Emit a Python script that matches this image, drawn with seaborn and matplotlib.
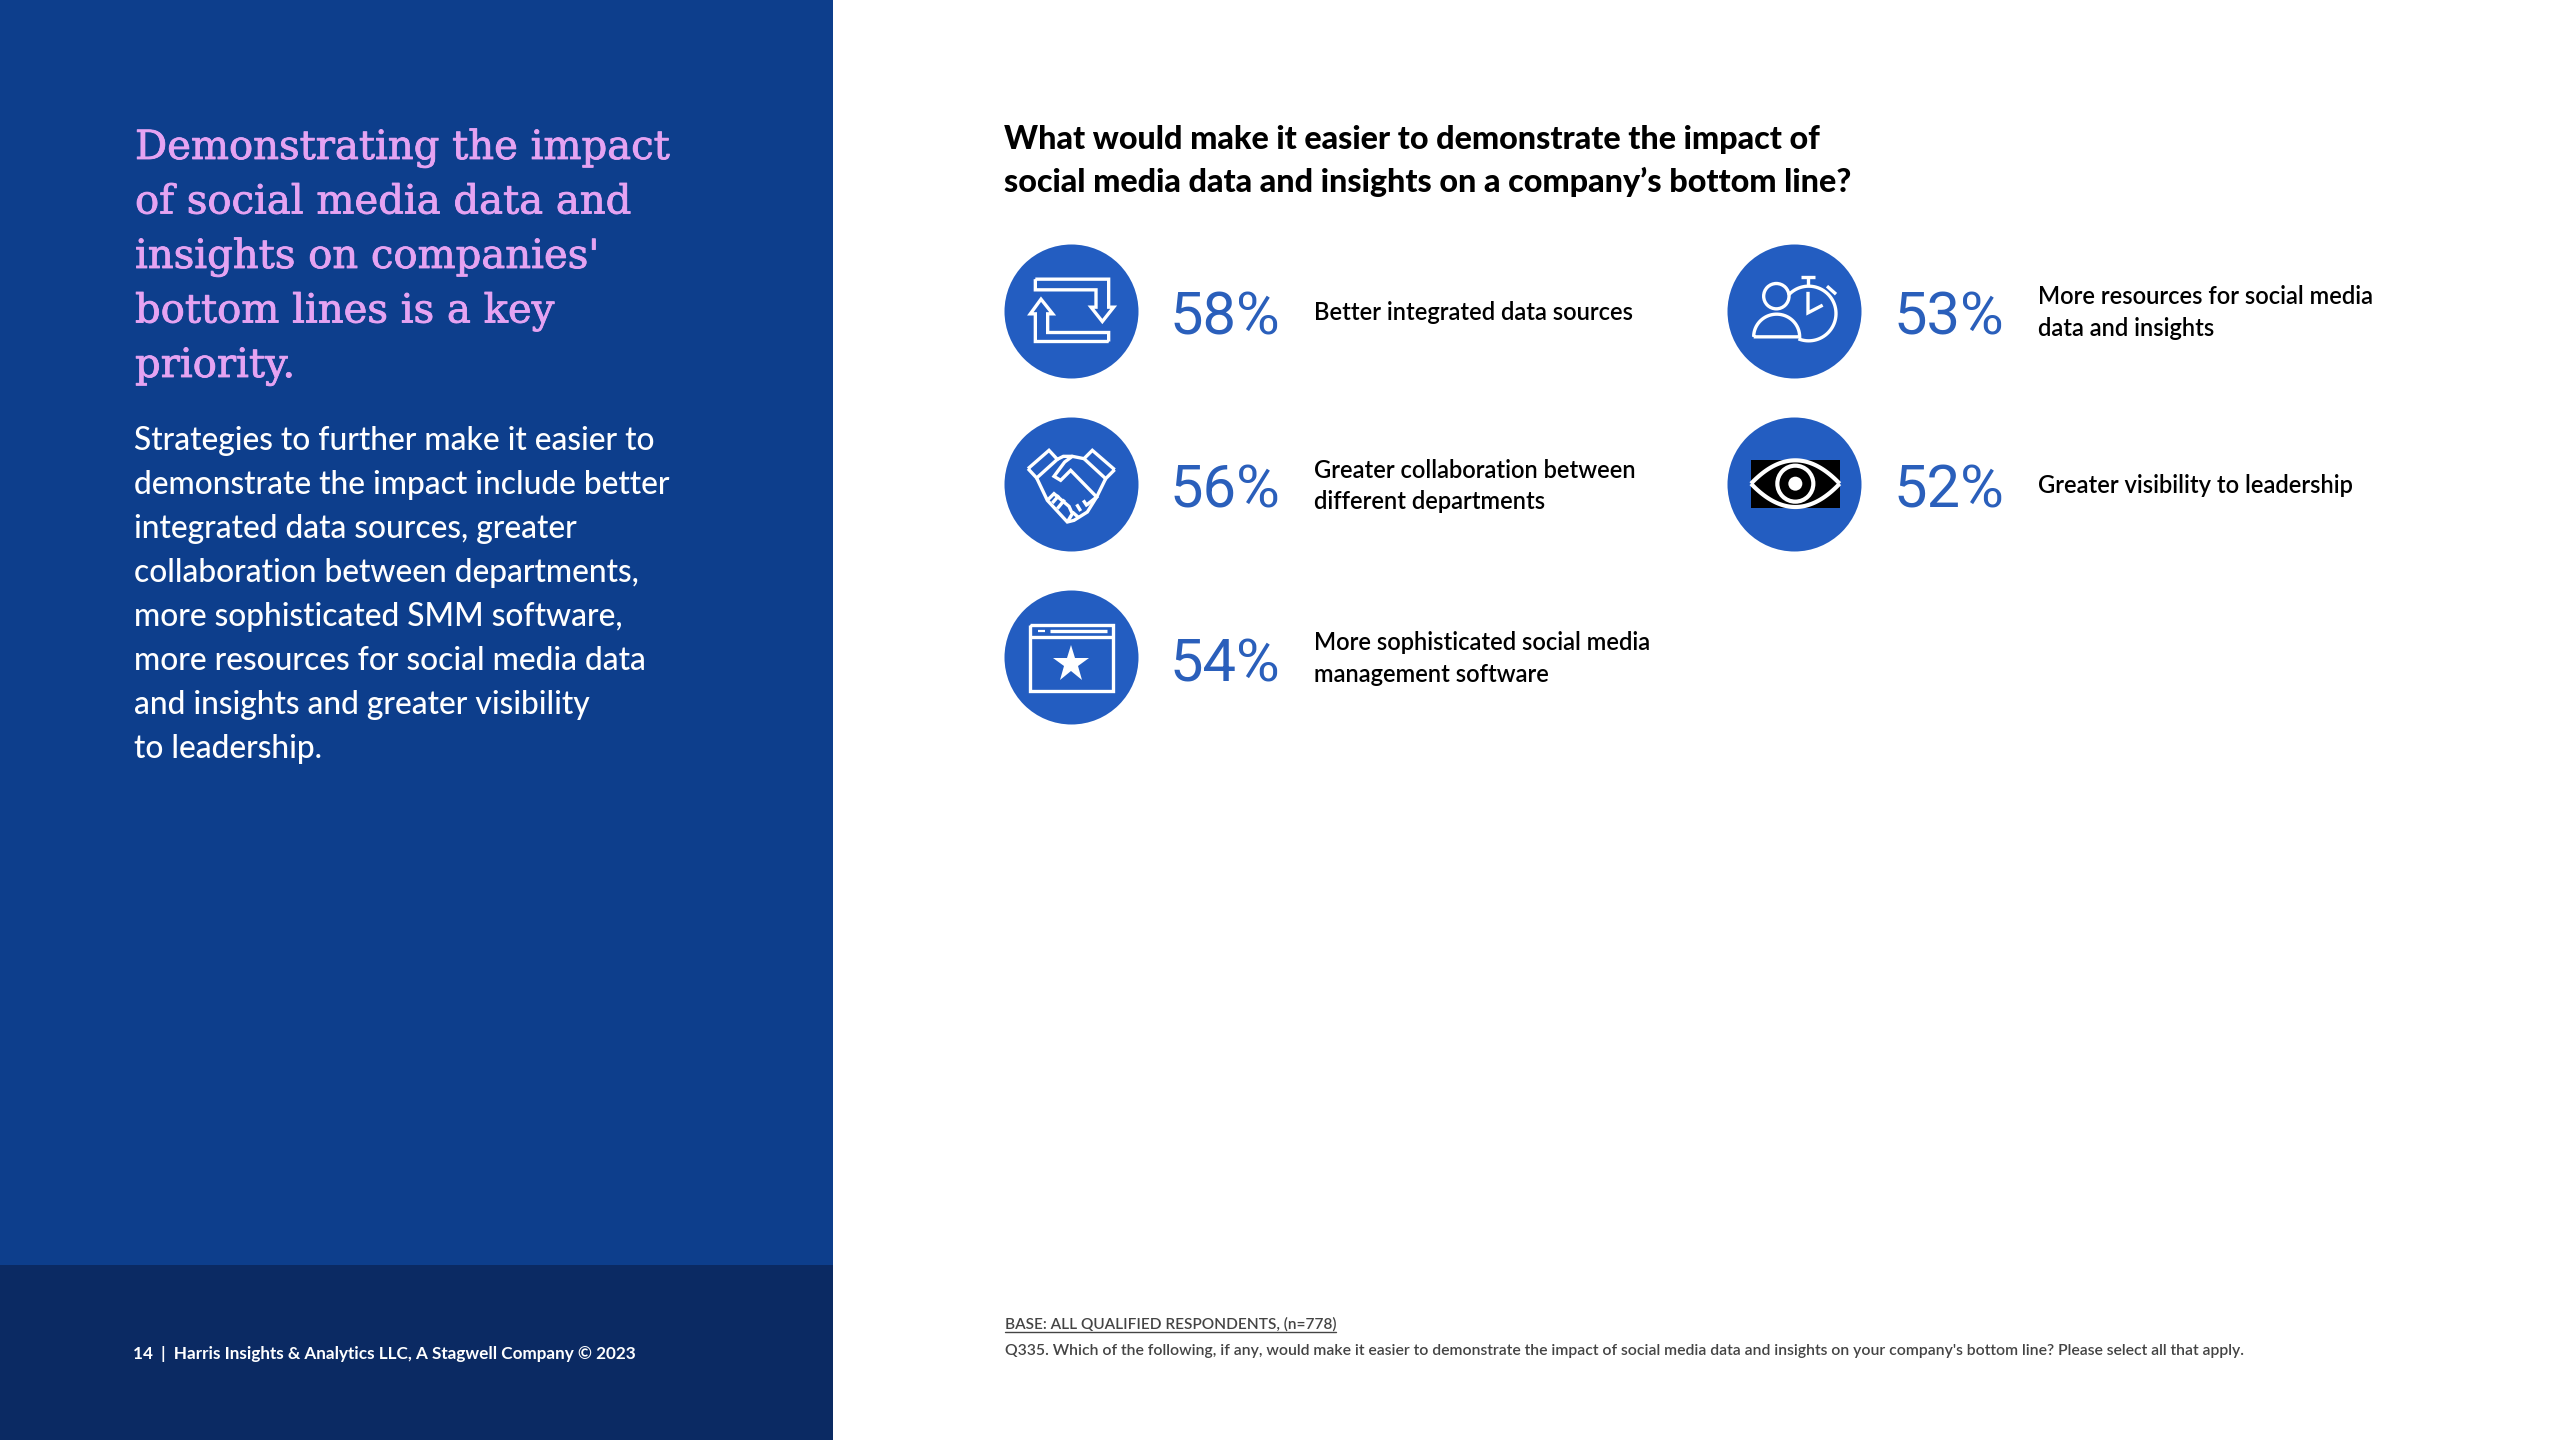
import numpy as np
import pandas as pd
import matplotlib.pyplot as plt
import matplotlib.patheffects as pe
import seaborn as sns
from matplotlib.patches import Rectangle, Circle

# chart values
categories = [
    "Better integrated data sources",
    "Greater collaboration between\ndifferent departments",
    "More sophisticated social media\nmanagement software",
    "More resources for social media\ndata and insights",
    "Greater visibility to leadership",
]
values = [58, 56, 54, 53, 52]
grid_col = [0, 0, 0, 1, 1]
grid_row = [0, 1, 2, 0, 1]
icons = ["arrows", "hands", "window", "clock", "eye"]

heading_lines = ["Demonstrating the impact", "of social media data and", "insights on companies'",
                 "bottom lines is a key", "priority."]
body_lines = ["Strategies to further make it easier to", "demonstrate the impact include better",
              "integrated data sources, greater", "collaboration between departments,",
              "more sophisticated SMM software,", "more resources for social media data",
              "and insights and greater visibility", "to leadership."]
title_lines = ["What would make it easier to demonstrate the impact of",
               "social media data and insights on a company\u2019s bottom line?"]
base_note = "BASE: ALL QUALIFIED RESPONDENTS, (n=778)"
question_note = ("Q335. Which of the following, if any, would make it easier to demonstrate the impact of "
                 "social media data and insights on your company's bottom line? Please select all that apply.")
footer_text = "14  |  Harris Insights & Analytics LLC, A Stagwell Company \u00a9 2023"

# layout, in pixels of the 2560x1440 page
col_x = [1071, 1794]
row_y = [310.5, 484, 657]
pct_x = [1170, 1894]
label_x = [1314, 2038]

PANEL = "#0D3E8C"
FOOTER = "#0B2A63"
BLUE = "#235DC1"
PCT_BLUE = "#2A5FBB"
PINK = "#E5A3F2"

sns.set_theme(style="white")
plt.rcParams["font.family"] = ["Lato", "DejaVu Sans"]

fig = plt.figure(figsize=(25.6, 14.4), dpi=100, facecolor="white")
ax = fig.add_axes([0, 0, 1, 1])
ax.set_xlim(0, 2560)
ax.set_ylim(1440, 0)
ax.axis("off")

ax.add_patch(Rectangle((0, 0), 833, 1440, color=PANEL, lw=0, zorder=0))
ax.add_patch(Rectangle((0, 1265), 833, 175, color=FOOTER, lw=0, zorder=0))

df = pd.DataFrame({"label": categories, "value": values, "col": grid_col, "row": grid_row, "icon": icons})
df["x"] = [col_x[c] for c in df["col"]]
df["y"] = [row_y[r] for r in df["row"]]

# 134 px across at dpi 100
sns.scatterplot(data=df, x="x", y="y", s=(134 * 0.72) ** 2, color=BLUE, linewidth=0, legend=False, ax=ax, zorder=2)
ax.set_xlabel("")
ax.set_ylabel("")


# icons are sketched in a 402 unit box around the circle centre
def box(cx, cy, pts):
    pts = np.asarray(pts, dtype=float)
    return (pts - 201) / 3 + [cx, cy]


def stroke(cx, cy, pts, closed=False, lw=2.4):
    p = box(cx, cy, pts)
    if closed:
        p = np.vstack([p, p[:1]])
    ax.plot(p[:, 0], p[:, 1], color="white", lw=lw, solid_joinstyle="miter", solid_capstyle="butt", zorder=4)


def ring(cx, cy, x, y, r, lw=2.4, fill=False):
    px, py = box(cx, cy, [x, y])
    ax.add_patch(Circle((px, py), r / 3, fill=fill, facecolor="white", edgecolor="white", lw=lw, zorder=4))


def draw_arrows(cx, cy):
    stroke(cx, cy, [(94, 107), (314, 107), (314, 191), (329, 191), (295, 234), (261, 191), (276, 191),
                    (276, 139), (94, 139)], closed=True)
    stroke(cx, cy, [(314, 294), (94, 294), (94, 211), (79, 211), (111, 167), (146, 211), (131, 211),
                    (131, 267), (314, 267)], closed=True)


def draw_hands(cx, cy):
    stroke(cx, cy, [(72, 155), (135, 100), (160, 127), (98, 183)], closed=True)
    stroke(cx, cy, [(332, 158), (265, 100), (240, 125), (305, 185)], closed=True)
    stroke(cx, cy, [(240, 125), (205, 118), (182, 135), (150, 178), (170, 190), (200, 160), (278, 240),
                    (250, 262)])
    stroke(cx, cy, [(305, 185), (278, 240), (250, 285), (210, 310), (190, 315), (130, 250), (98, 183)])
    stroke(cx, cy, [(160, 127), (178, 118), (205, 118)])
    stroke(cx, cy, [(130, 250), (150, 230), (195, 268), (205, 290), (190, 315)])
    stroke(cx, cy, [(165, 235), (145, 258)])
    stroke(cx, cy, [(182, 248), (160, 275)])
    stroke(cx, cy, [(218, 262), (230, 282)])
    stroke(cx, cy, [(238, 250), (250, 268)])
    stroke(cx, cy, [(205, 285), (222, 300)])


def draw_window(cx, cy):
    stroke(cx, cy, [(78, 105), (327, 105), (327, 303), (78, 303)], closed=True)
    stroke(cx, cy, [(78, 141), (327, 141)])
    stroke(cx, cy, [(138, 124), (309, 124)], lw=2.4)
    stroke(cx, cy, [(102, 124), (123, 124)], lw=1.6)
    px, py = box(cx, cy, [201, 222])
    ax.plot([px], [py], marker="*", ms=28, color="white", mew=0, zorder=4)


def draw_clock(cx, cy):
    t = np.radians(np.linspace(-138, 112, 60))
    stroke(cx, cy, np.c_[245 + 82 * np.cos(t), 210 + 82 * np.sin(t)])
    stroke(cx, cy, [(222, 100), (265, 100)])
    stroke(cx, cy, [(243, 100), (243, 128)])
    stroke(cx, cy, [(243, 145), (243, 208), (287, 185)])
    stroke(cx, cy, [(300, 128), (327, 152)])
    ring(cx, cy, 148, 158, 38)
    t = np.radians(np.linspace(180, 360, 40))
    stroke(cx, cy, np.vstack([np.c_[149 + 69 * np.cos(t), 280 + 68 * np.sin(t)], [(80, 280)]]))


def draw_eye(cx, cy):
    p = box(cx, cy, [(72, 130)])[0]
    ax.add_patch(Rectangle(p, 266 / 3, 144 / 3, color="black", lw=0, zorder=3))
    s = np.linspace(-1, 1, 60)
    xs = 205 + 133 * s
    stroke(cx, cy, np.c_[xs, 200 - 70 * (1 - s ** 2)], lw=3)
    stroke(cx, cy, np.c_[xs, 200 + 70 * (1 - s ** 2)], lw=3)
    ring(cx, cy, 205, 200, 54, lw=3)
    ring(cx, cy, 205, 200, 21, lw=0, fill=True)


draw_icon = {"arrows": draw_arrows, "hands": draw_hands, "window": draw_window,
             "clock": draw_clock, "eye": draw_eye}

for _, r in df.iterrows():
    draw_icon[r["icon"]](r["x"], r["y"])
    ax.text(pct_x[r["col"]], r["y"] + 24, f"{r['value']}%", fontsize=43, color=PCT_BLUE,
            family="Roboto", fontweight="normal", va="baseline", ha="left")
    lines = r["label"].split("\n")
    offsets = [9] if len(lines) == 1 else [-6.5, 25]
    for line, off in zip(lines, offsets):
        ax.text(label_x[r["col"]], r["y"] + off, line, fontsize=17.1, color="black", fontweight="semibold",
                va="baseline", ha="left")

# left panel
for i, line in enumerate(heading_lines):
    ax.text(135, 159 + i * 54.5, line, fontsize=28.9, color=PINK, family="DejaVu Serif", va="baseline",
            path_effects=[pe.withStroke(linewidth=0.6, foreground=PINK)])
for i, line in enumerate(body_lines):
    ax.text(134, 449.5 + i * 44, line, fontsize=22.9, color="white", fontweight="medium", va="baseline")
ax.text(133, 1359, footer_text, fontsize=12.3, color="white", fontweight="bold", va="baseline")

# right side title and notes
for i, line in enumerate(title_lines):
    ax.text(1004, 149 + i * 43, line, fontsize=23.2, color="black", fontweight="black", va="baseline")
ax.text(1005, 1329, base_note, fontsize=11.1, color="#444444", fontweight="semibold", va="baseline")
ax.plot([1005, 1336], [1332, 1332], color="#444444", lw=1)
ax.text(1005, 1355, question_note, fontsize=11.37, color="#444444", fontweight="semibold", va="baseline")

fig.savefig("out.png", dpi=100, facecolor="white")
